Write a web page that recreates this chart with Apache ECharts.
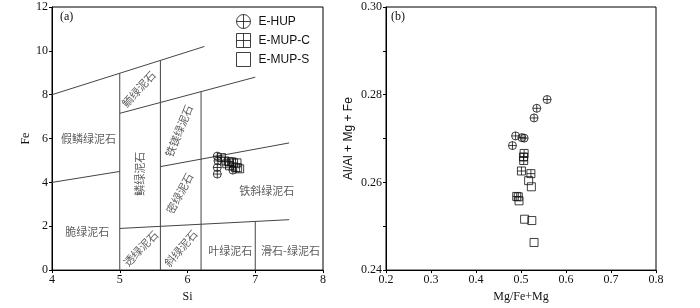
<!DOCTYPE html>
<html>
<head>
<meta charset="utf-8">
<script src="https://cdn.jsdelivr.net/npm/echarts@6/dist/echarts.min.js"></script>
<style>html,body{margin:0;padding:0;background:#fff;}#c{width:700px;height:308px;}</style>
</head>
<body>
<div id="c"></div>
<script>
// ---- Data ----
const seriesNames = ['E-HUP', 'E-MUP-C', 'E-MUP-S'];

// (a) Si vs Fe
const siFeHUP = [[6.44,5.20],[6.45,4.98],[6.44,4.68],[6.44,4.38],[6.67,4.56]];
const siFeMUPC = [[6.50,5.13],[6.55,4.98],[6.61,4.94],[6.68,4.89],[6.62,4.76],[6.71,4.67]];
const siFeMUPS = [[6.73,4.89],[6.77,4.62],[6.58,4.85],[6.65,4.94],[6.74,4.67]];

// (b) Mg/(Fe+Mg) vs Al/(Al+Mg+Fe)
const mgAlHUP = [[0.558,0.2789],[0.535,0.2769],[0.529,0.2747],[0.488,0.2706],[0.502,0.2702],[0.507,0.2701],[0.481,0.2684]];
const mgAlMUPC = [[0.507,0.2666],[0.5055,0.2658],[0.506,0.2650],[0.501,0.2626],[0.522,0.2620],[0.4905,0.2568],[0.494,0.2567]];
const mgAlMUPS = [[0.517,0.2604],[0.523,0.2590],[0.4956,0.2558],[0.508,0.2516],[0.524,0.2513],[0.529,0.2463]];

// classification diagram boundaries (Si, Fe)
const boundaryLines = [
  [[4,8],[6.25,10.2]],
  [[5,7.15],[7,8.8]],
  [[4,4],[5,4.5]],
  [[5.6,4.72],[7.5,5.8]],
  [[5,1.9],[7.5,2.3]],
  [[5,0],[5,8.97]],
  [[5.6,0],[5.6,9.56]],
  [[6.2,0],[6.2,8.14]],
  [[7,0],[7,2.2]]
];
const regionNames = ['假鳞绿泥石','鲕绿泥石','铁镁绿泥石','鳞绿泥石','密绿泥石','铁斜绿泥石','脆绿泥石','透绿泥石','斜绿泥石','叶绿泥石','滑石-绿泥石'];
const regionPos = [[4.54,6.0],[5.28,8.26],[5.875,6.35],[5.30,4.39],[5.885,3.50],[7.17,3.62],[4.52,1.73],[5.31,0.99],[5.90,0.99],[6.63,0.89],[7.52,0.89]];
const regionAngles = [0,48,68,90,62,0,0,46,49,0,0];

const siTicks = [4,5,6,7,8];
const feTicks = [0,2,4,6,8,10,12];
const mgTicks = [0.2,0.3,0.4,0.5,0.6,0.7,0.8];
const alTicks = [0.24,0.26,0.28,0.30];

// ---- Chart ----
const serif = 'Liberation Serif';
const sans = 'Liberation Sans';
const symCircle = 'path://M0,10 A10,10 0 1,1 20,10 A10,10 0 1,1 0,10 Z M10,0 L10,20 M0,10 L20,10';
const symGrid = 'path://M0,0 L20,0 L20,20 L0,20 Z M10,0 L10,20 M0,10 L20,10';
const symSquare = 'path://M0,0 L20,0 L20,20 L0,20 Z';
const symbols = [symCircle, symGrid, symSquare];

const axisCommon = {
  axisLine: {show: true, lineStyle: {color: '#000', width: 1}},
  axisTick: {show: true, inside: false, length: 3, lineStyle: {color: '#000'}},
  splitLine: {show: false},
  axisLabel: {color: '#111', fontFamily: serif, fontSize: 12, margin: 4},
  nameTextStyle: {color: '#111', fontFamily: serif, fontSize: 12}
};

function markerSeries(name, data, idx, axisIdx) {
  return {
    name: name, type: 'scatter', xAxisIndex: axisIdx, yAxisIndex: axisIdx,
    symbol: symbols[idx], symbolSize: 8, data: data,
    itemStyle: {color: 'rgba(255,255,255,0)', borderColor: '#111', borderWidth: 1},
    z: 5
  };
}

const series = [];
boundaryLines.forEach(seg => series.push({
  type: 'line', xAxisIndex: 0, yAxisIndex: 0, data: seg, symbol: 'none', silent: true,
  lineStyle: {color: '#444', width: 1}, z: 2
}));
series.push({
  type: 'scatter', xAxisIndex: 0, yAxisIndex: 0, silent: true, symbolSize: 0,
  data: regionNames.map((n, i) => ({
    value: regionPos[i],
    label: {show: true, formatter: n, position: 'inside', rotate: regionAngles[i],
      fontFamily: 'Noto Sans CJK SC', fontSize: 11, color: '#333'}
  })),
  z: 3
});
series.push(markerSeries(seriesNames[0], siFeHUP, 0, 0));
series.push(markerSeries(seriesNames[1], siFeMUPC, 1, 0));
series.push(markerSeries(seriesNames[2], siFeMUPS, 2, 0));
series.push(markerSeries(seriesNames[0], mgAlHUP, 0, 1));
series.push(markerSeries(seriesNames[1], mgAlMUPC, 1, 1));
series.push(markerSeries(seriesNames[2], mgAlMUPS, 2, 1));

const option = {
  animation: false,
  backgroundColor: '#fff',
  grid: [
    {left: 52, right: 377, top: 7, bottom: 31, show: true, borderColor: '#000', borderWidth: 1},
    {left: 386, right: 44, top: 7, bottom: 31, show: true, borderColor: '#000', borderWidth: 1}
  ],
  xAxis: [
    Object.assign({}, axisCommon, {gridIndex: 0, type: 'value', min: siTicks[0], max: siTicks[siTicks.length-1], interval: 1,
      name: 'Si', nameLocation: 'middle', nameGap: 16}),
    Object.assign({}, axisCommon, {gridIndex: 1, type: 'value', min: mgTicks[0], max: mgTicks[mgTicks.length-1], interval: 0.1,
      name: 'Mg/Fe+Mg', nameLocation: 'middle', nameGap: 17,
      axisLabel: Object.assign({}, axisCommon.axisLabel, {formatter: v => v.toFixed(1)})})
  ],
  yAxis: [
    Object.assign({}, axisCommon, {gridIndex: 0, type: 'value', min: feTicks[0], max: feTicks[feTicks.length-1], interval: 2,
      name: 'Fe', nameLocation: 'middle', nameGap: 14}),
    Object.assign({}, axisCommon, {gridIndex: 1, type: 'value', min: alTicks[0], max: alTicks[alTicks.length-1], interval: 0.01,
      name: 'Al/Al + Mg + Fe', nameLocation: 'middle', nameGap: 31,
      nameTextStyle: {color: '#111', fontFamily: sans, fontSize: 12},
      axisLabel: Object.assign({}, axisCommon.axisLabel, {
        formatter: v => (Math.round(v * 100) % 2 === 0 ? v.toFixed(2) : '')
      })})
  ],
  legend: {
    data: seriesNames, orient: 'vertical', left: 236, top: 14, padding: 0, itemWidth: 14, itemHeight: 14, itemGap: 4,
    textStyle: {fontFamily: sans, fontSize: 12, color: '#111', padding: [0, 0, 0, 3]},
    itemStyle: {color: 'rgba(255,255,255,0)', borderColor: '#111', borderWidth: 1}
  },
  graphic: [
    {type: 'text', left: 60, top: 11, style: {text: '(a)', font: '12px "Liberation Serif"', fill: '#111'}},
    {type: 'text', left: 391, top: 11, style: {text: '(b)', font: '12px "Liberation Serif"', fill: '#111'}}
  ],
  series: series
};
const chart = echarts.init(document.getElementById('c'), null, {renderer: 'canvas'});
chart.setOption(option);
</script>
</body>
</html>
